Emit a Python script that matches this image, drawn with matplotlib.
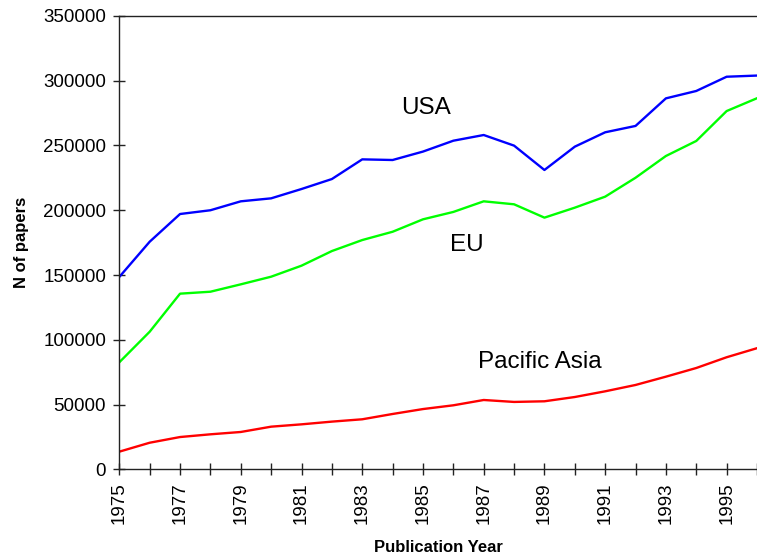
#%% imports
import matplotlib
matplotlib.use("Agg")
import matplotlib.pyplot as plt

plt.rcParams['font.family'] = ['Liberation Sans', 'DejaVu Sans']

#%% data
years = list(range(1975, 1997))
usa = [148500, 175700, 197100, 200000, 206900, 209200, 216400, 224100, 239300, 238800,
       245300, 253700, 258100, 249900, 231100, 249100, 260200, 265100, 286400, 292100,
       303100, 304000]
eu = [82600, 106200, 135600, 137100, 142800, 148700, 157200, 168500, 177000, 183400,
      193000, 198700, 206900, 204600, 194300, 202000, 210500, 225100, 241900, 253500,
      276600, 286500]
pacific_asia = [13600, 20500, 24900, 27000, 28800, 32900, 34700, 36800, 38600, 42700,
                46500, 49400, 53500, 52000, 52500, 55800, 60200, 65100, 71500, 78200,
                86500, 93500]
tick_labels = [str(y) if y % 2 == 1 else "" for y in years]

#%% plot
fig = plt.figure(figsize=(7.57, 5.59), dpi=100)
ax = fig.add_axes([0.1576, 0.1605, 1.0 - 0.1576, 0.9714 - 0.1605])

ax.plot(years, usa, color="#0000FF", lw=1.7)
ax.plot(years, eu, color="#00FF00", lw=1.7)
ax.plot(years, pacific_asia, color="#FF0000", lw=1.7)

ax.text(1985.1, 279000, "USA", fontsize=17.5, ha="center", va="center")
ax.text(1986.45, 173000, "EU", fontsize=17.5, ha="center", va="center")
ax.text(1988.85, 83000, "Pacific Asia", fontsize=17.5, ha="center", va="center")

ax.set_xlim(1975, 1995.77)
ax.set_ylim(0, 350000)
ax.set_xticks(years)
ax.set_xticklabels(tick_labels, rotation=90)
ax.set_yticks(range(0, 350001, 50000))

ax.tick_params(direction="inout", length=9, width=1, labelsize=13.5, colors="#222222",
               labelcolor="black")
ax.tick_params(axis="y", pad=5)
ax.tick_params(axis="x", pad=5)
for s in ["left", "bottom", "top"]:
    ax.spines[s].set_color("#222222")
    ax.spines[s].set_linewidth(1.0)
ax.spines["right"].set_visible(False)

ax.set_xlabel("Publication Year", fontsize=12, fontweight="bold", labelpad=11)
ax.set_ylabel("N of papers", fontsize=12, fontweight="bold", labelpad=10)

fig.savefig("out.png", dpi=100)
